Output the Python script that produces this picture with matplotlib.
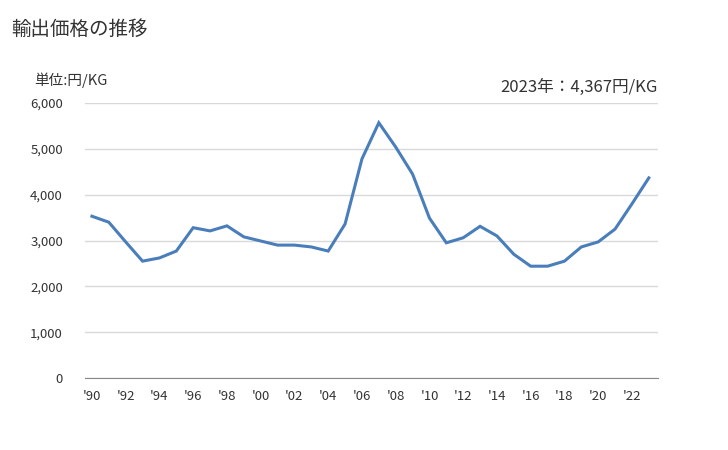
import matplotlib
matplotlib.use("Agg")
import matplotlib.pyplot as plt
from matplotlib.ticker import FuncFormatter, MultipleLocator

plt.rcParams['font.family'] = ['Noto Sans CJK JP', 'DejaVu Sans']

years = list(range(1990, 2024))
values = [3530, 3400, 2970, 2550, 2620, 2770, 3280, 3210, 3320, 3080,
          2990, 2900, 2900, 2860, 2770, 3360, 4780, 5570, 5040, 4450,
          3490, 2950, 3060, 3310, 3100, 2700, 2440, 2440, 2550, 2860,
          2970, 3250, 3800, 4367]
tick_years = list(range(1990, 2023, 2))
tick_labels = ["'" + str(y)[2:] for y in tick_years]

fig = plt.figure(figsize=(7.28, 4.5), dpi=100)
ax = fig.add_axes([0.117, 0.16, 0.787, 0.611])
ax.plot(years, values, color='#4a7ebb', linewidth=2.2, solid_joinstyle='miter')
ax.set_xlim(1989.6, 2023.55)
ax.set_ylim(0, 6000)
ax.yaxis.set_major_locator(MultipleLocator(1000))
ax.yaxis.set_major_formatter(FuncFormatter(lambda v, p: f"{int(v):,}"))
ax.set_xticks(tick_years)
ax.set_xticklabels(tick_labels)
ax.grid(axis='y', color='#d9d9d9', linewidth=1)
ax.set_axisbelow(True)
for s in ['top', 'right', 'left']:
    ax.spines[s].set_visible(False)
ax.spines['bottom'].set_color('#898989')
ax.tick_params(axis='both', length=0, labelsize=9.5, colors='#333333')
ax.tick_params(axis='y', pad=16)
ax.tick_params(axis='x', pad=9)

fig.text(0.016, 0.935, '輸出価格の推移', fontsize=14, color='#333333', va='center')
fig.text(0.047, 0.822, '単位:円/KG', fontsize=10.5, color='#333333', va='center')
fig.text(0.904, 0.806, '2023年：4,367円/KG', fontsize=12, color='#333333', va='center', ha='right')

fig.savefig('out.png', dpi=100, facecolor='white')
